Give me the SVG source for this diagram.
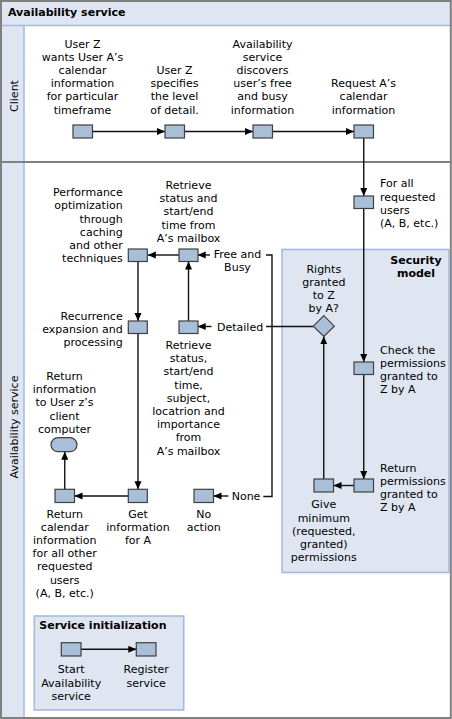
<svg xmlns="http://www.w3.org/2000/svg" width="452" height="719" viewBox="0 0 452 719">
<defs>
<style>
text{font-family:"DejaVu Sans",Verdana,sans-serif;font-size:11px;fill:#000}
.b{font-weight:bold}
.m{text-anchor:middle}
.e{text-anchor:end}
.box{fill:#a8bfd7;stroke:#404040;stroke-width:1.2}
.panel{fill:#dfe6f2;stroke:#a5badf;stroke-width:1.6}
.c{fill:none;stroke:#111;stroke-width:1.4}
.a{marker-end:url(#ah)}
</style>
<marker id="ah" markerUnits="userSpaceOnUse" markerWidth="9" markerHeight="8" refX="8" refY="3.5" orient="auto">
<path d="M0,0 L8,3.5 L0,7 z" fill="#000"/>
</marker>
</defs>

<g id="frame">
<rect x="0" y="0" width="452" height="719" fill="#fff"/>
<rect x="0" y="0" width="452" height="25" fill="#dfe6f2"/>
<rect x="0" y="25" width="24" height="694" fill="#dfe6f2"/>
<line x1="0" y1="25.5" x2="452" y2="25.5" stroke="#a5badf" stroke-width="1.5"/>
<line x1="24" y1="25" x2="24" y2="719" stroke="#a5badf" stroke-width="1.5"/>
<line x1="0" y1="162" x2="452" y2="162" stroke="#808080" stroke-width="2"/>
<rect x="1" y="1" width="449.8" height="717" fill="none" stroke="#808080" stroke-width="2"/>
<text class="b" x="8" y="15.5">Availability service</text>
<text class="m" transform="translate(18,96) rotate(-90)">Client</text>
<text class="m" transform="translate(18,427) rotate(-90)">Availability service</text>
</g>

<g id="security-model">
<rect class="panel" x="282" y="249.5" width="167" height="323"/>
<text class="b m" x="416" y="263.5">Security</text>
<text class="b m" x="416" y="276.5">model</text>
</g>

<g id="service-initialization">
<rect class="panel" x="34.3" y="616" width="149.4" height="94"/>
<text class="b" x="39.3" y="628.5">Service initialization</text>
</g>

<g id="connectors">
<path class="c a" d="M92.5 131.5 H165"/>
<path class="c a" d="M184.5 131.5 H253"/>
<path class="c a" d="M272.5 131.5 H354"/>
<path class="c a" d="M363.75 138 V196"/>
<path class="c a" d="M363.75 208.5 V362"/>
<path class="c a" d="M363.75 374.5 V479"/>
<path class="c a" d="M354 485.5 H333.5"/>
<path class="c a" d="M323.75 479 V336.3"/>
<path class="c" d="M313.3 326.5 H266"/>
<path class="c" d="M266 255 H272 V496.5 H263.3"/>
<path class="c a" d="M210 255 H197.7"/>
<path class="c a" d="M211.5 326.5 H197.7"/>
<path class="c a" d="M228.3 496 H213.5"/>
<path class="c a" d="M188.5 321 V261.5"/>
<path class="c a" d="M179 255 H147.8"/>
<path class="c a" d="M138 261.5 V321"/>
<path class="c a" d="M138 333.5 V489.3"/>
<path class="c a" d="M128.3 496 H74.5"/>
<path class="c a" d="M64.75 489.3 V451.7"/>
<path class="c a" d="M81 649.3 H136.3"/>
</g>

<g id="n-userz-wants">
<rect class="box" x="73" y="125" width="19.5" height="13"/>
<text class="m" x="82.5" y="47.5">User Z</text>
<text class="m" x="82.5" y="60.7">wants User A’s</text>
<text class="m" x="82.5" y="73.9">calendar</text>
<text class="m" x="82.5" y="87.1">information</text>
<text class="m" x="82.5" y="100.3">for particular</text>
<text class="m" x="82.5" y="113.5">timeframe</text>
</g>

<g id="n-userz-specifies">
<rect class="box" x="165" y="125" width="19.5" height="13"/>
<text class="m" x="174.5" y="73.9">User Z</text>
<text class="m" x="174.5" y="87.1">specifies</text>
<text class="m" x="174.5" y="100.3">the level</text>
<text class="m" x="174.5" y="113.5">of detail.</text>
</g>

<g id="n-discovers">
<rect class="box" x="253" y="125" width="19.5" height="13"/>
<text class="m" x="262.5" y="47.5">Availability</text>
<text class="m" x="262.5" y="60.7">service</text>
<text class="m" x="262.5" y="73.9">discovers</text>
<text class="m" x="262.5" y="87.1">user’s free</text>
<text class="m" x="262.5" y="100.3">and busy</text>
<text class="m" x="262.5" y="113.5">information</text>
</g>

<g id="n-request">
<rect class="box" x="354" y="125" width="19.5" height="13"/>
<text class="m" x="363.5" y="87.1">Request A’s</text>
<text class="m" x="363.5" y="100.3">calendar</text>
<text class="m" x="363.5" y="113.5">information</text>
</g>

<g id="n-forall">
<rect class="box" x="354" y="196" width="19.5" height="12.5"/>
<text x="380" y="187.3">For all</text>
<text x="380" y="200.5">requested</text>
<text x="380" y="213.7">users</text>
<text x="380" y="226.9">(A, B, etc.)</text>
</g>

<g id="n-check">
<rect class="box" x="354" y="362" width="19.5" height="12.5"/>
<text x="380" y="353.5">Check the</text>
<text x="380" y="366.7">permissions</text>
<text x="380" y="379.9">granted to</text>
<text x="380" y="393.1">Z by A</text>
</g>

<g id="n-return-perm">
<rect class="box" x="354" y="479" width="19.5" height="13"/>
<text x="380" y="471.8">Return</text>
<text x="380" y="485">permissions</text>
<text x="380" y="498.2">granted to</text>
<text x="380" y="511.4">Z by A</text>
</g>

<g id="n-give">
<rect class="box" x="314" y="479" width="19.5" height="13"/>
<text class="m" x="323.75" y="508.4">Give</text>
<text class="m" x="323.75" y="521.6">minimum</text>
<text class="m" x="323.75" y="534.8">(requested,</text>
<text class="m" x="323.75" y="548">granted)</text>
<text class="m" x="323.75" y="561.2">permissions</text>
</g>

<g id="n-rights">
<path class="box" d="M323.8 315.7 L334.3 326.2 L323.8 336.5 L313.3 326.2 Z"/>
<text class="m" x="323.8" y="273">Rights</text>
<text class="m" x="323.8" y="286">granted</text>
<text class="m" x="323.8" y="299">to Z</text>
<text class="m" x="323.8" y="311.5">by A?</text>
</g>

<g id="edge-labels">
<text class="m" x="237.5" y="258">Free and</text>
<text class="m" x="237.5" y="271">Busy</text>
<text x="217" y="330.6">Detailed</text>
<text x="231.7" y="500.2">None</text>
</g>

<g id="n-retrieve-fb">
<rect class="box" x="179" y="249" width="19" height="12.5"/>
<text class="m" x="188.5" y="189">Retrieve</text>
<text class="m" x="188.5" y="202.2">status and</text>
<text class="m" x="188.5" y="215.4">start/end</text>
<text class="m" x="188.5" y="228.6">time from</text>
<text class="m" x="188.5" y="241.8">A’s mailbox</text>
</g>

<g id="n-retrieve-detailed">
<rect class="box" x="179" y="321" width="19" height="12.5"/>
<text class="m" x="188.5" y="349">Retrieve</text>
<text class="m" x="188.5" y="362.2">status,</text>
<text class="m" x="188.5" y="375.4">start/end</text>
<text class="m" x="188.5" y="388.6">time,</text>
<text class="m" x="188.5" y="401.8">subject,</text>
<text class="m" x="188.5" y="415">locatrion and</text>
<text class="m" x="188.5" y="428.2">importance</text>
<text class="m" x="188.5" y="441.4">from</text>
<text class="m" x="188.5" y="454.6">A’s mailbox</text>
</g>

<g id="n-noaction">
<rect class="box" x="194" y="489.3" width="19.5" height="13.2"/>
<text class="m" x="203.75" y="517.5">No</text>
<text class="m" x="203.75" y="530.7">action</text>
</g>

<g id="n-performance">
<rect class="box" x="128.3" y="249" width="19" height="12.5"/>
<text class="e" x="122.7" y="196.3">Performance</text>
<text class="e" x="122.7" y="209.4">optimization</text>
<text class="e" x="122.7" y="222.5">through</text>
<text class="e" x="122.7" y="235.6">caching</text>
<text class="e" x="122.7" y="248.7">and other</text>
<text class="e" x="122.7" y="261.8">techniques</text>
</g>

<g id="n-recurrence">
<rect class="box" x="128.3" y="321" width="19" height="12.5"/>
<text class="e" x="122.7" y="319.7">Recurrence</text>
<text class="e" x="122.7" y="332.7">expansion and</text>
<text class="e" x="122.7" y="345.8">processing</text>
</g>

<g id="n-getinfo">
<rect class="box" x="128.3" y="489.3" width="19" height="13.2"/>
<text class="m" x="138" y="517.5">Get</text>
<text class="m" x="138" y="530.7">information</text>
<text class="m" x="138" y="543.9">for A</text>
</g>

<g id="n-return-cal">
<rect class="box" x="55" y="489.3" width="19.5" height="13.2"/>
<text class="m" x="64.75" y="517.5">Return</text>
<text class="m" x="64.75" y="530.7">calendar</text>
<text class="m" x="64.75" y="543.9">information</text>
<text class="m" x="64.75" y="557.1">for all other</text>
<text class="m" x="64.75" y="570.3">requested</text>
<text class="m" x="64.75" y="583.5">users</text>
<text class="m" x="64.75" y="596.7">(A, B, etc.)</text>
</g>

<g id="n-return-client">
<rect class="box" x="51" y="437.7" width="26" height="14" rx="7" ry="7"/>
<text class="m" x="64.5" y="380">Return</text>
<text class="m" x="64.5" y="393.2">information</text>
<text class="m" x="64.5" y="406.4">to User z’s</text>
<text class="m" x="64.5" y="419.6">client</text>
<text class="m" x="64.5" y="432.8">computer</text>
</g>

<g id="n-start">
<rect class="box" x="61.3" y="642.7" width="19.7" height="13.3"/>
<text class="m" x="71.2" y="673.4">Start</text>
<text class="m" x="71.2" y="686.6">Availability</text>
<text class="m" x="71.2" y="699.8">service</text>
</g>

<g id="n-register">
<rect class="box" x="136.3" y="642.7" width="19.7" height="13.3"/>
<text class="m" x="146.2" y="673.4">Register</text>
<text class="m" x="146.2" y="686.6">service</text>
</g>
</svg>
